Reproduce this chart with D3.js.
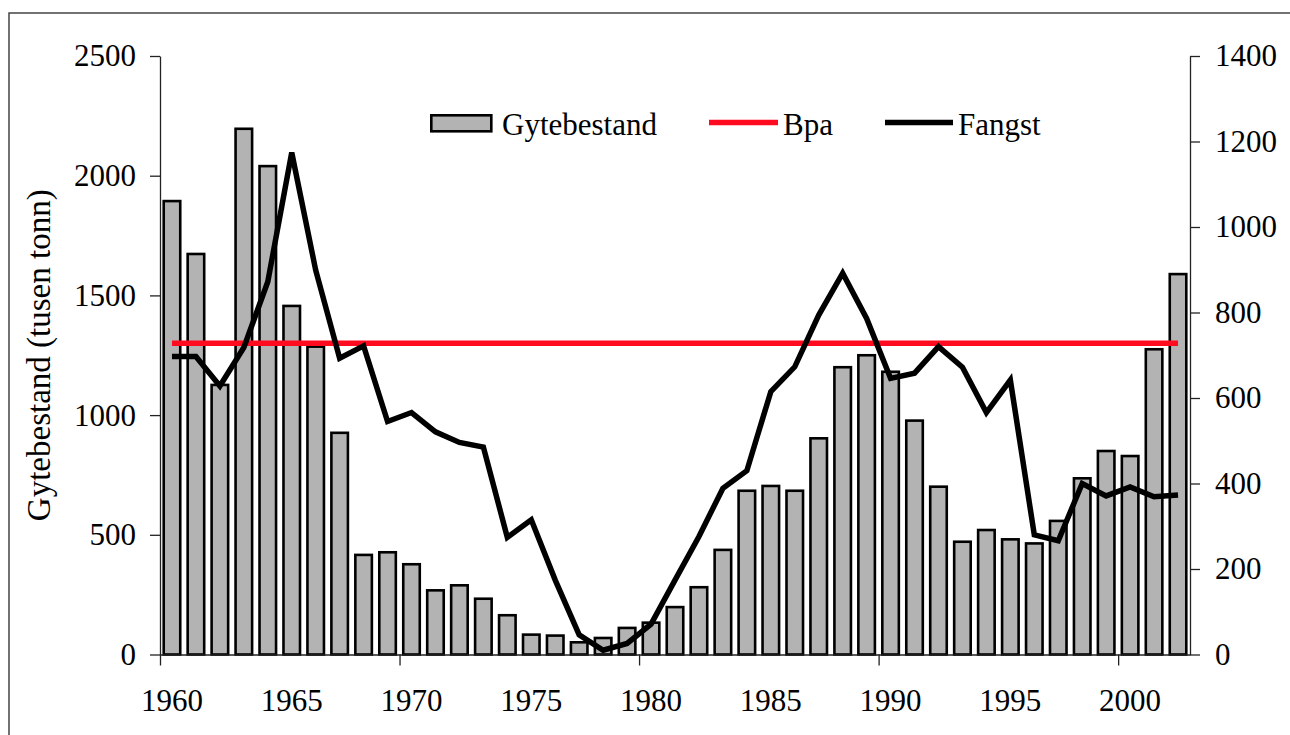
<!DOCTYPE html>
<html>
<head>
<meta charset="utf-8">
<script src="https://cdn.jsdelivr.net/npm/d3@7"></script>
<style>
  body { margin: 0; background: #fff; }
  svg { display: block; font-family: "Liberation Serif", "Times New Roman", serif; }
  .axis path, .axis line { stroke: #222; stroke-width: 1.3; }
  .axis text { font-size: 31px; fill: #000; font-family: "Liberation Serif", serif; }
</style>
</head>
<body>
<div id="chart"></div>
<script>
// years on the category axis
var years = d3.range(1960, 2003);

// Gytebestand (tusen tonn), left axis
var gytebestand = [1894, 1673, 1126, 2196, 2040, 1456, 1286, 926, 416, 427,
  377, 268, 289, 233, 164, 83, 79, 51, 69, 111,
  133, 198, 281, 437, 684, 704, 684, 903, 1200, 1250,
  1181, 977, 701, 471, 520, 481, 464, 558, 736, 850,
  829, 1275, 1589];

// Fangst, right axis
var fangst = [697, 697, 628, 718, 872, 1174, 899, 693, 722, 545,
  566, 521, 496, 485, 274, 315, 174, 46, 10, 26,
  71, 174, 276, 389, 430, 615, 673, 794, 892, 786,
  646, 658, 720, 672, 566, 642, 280, 266, 400, 371,
  392, 369, 373];

// Bpa reference level
var bpa = 1300;

var leftTicks = [0, 500, 1000, 1500, 2000, 2500];
var rightTicks = [0, 200, 400, 600, 800, 1000, 1200, 1400];
var yearLabels = [1960, 1965, 1970, 1975, 1980, 1985, 1990, 1995, 2000];
var yearTicks = [1960, 1970, 1980, 1990, 2000];
var legendNames = ["Gytebestand", "Bpa", "Fangst"];

var W = 1290, H = 735;
var plot = { left: 160, right: 1190, top: 56, bottom: 654.5 };

var svg = d3.select("#chart").append("svg")
  .attr("width", W)
  .attr("height", H);

// outer frame (only top and left edge are visible)
svg.append("path")
  .attr("d", "M9," + H + "V13H" + W)
  .attr("fill", "none")
  .attr("stroke", "#444")
  .attr("stroke-width", 1.5);

var x = d3.scaleBand()
  .domain(years)
  .range([plot.left, plot.right])
  .paddingInner(0.31)
  .paddingOuter(0.155);

// linear version for the boundary ticks
var xEdge = d3.scaleLinear()
  .domain([1960, 2003])
  .range([plot.left, plot.right]);

var yLeft = d3.scaleLinear().domain([0, 2500]).range([plot.bottom, plot.top]);
var yRight = d3.scaleLinear().domain([0, 1400]).range([plot.bottom, plot.top]);

// bars
svg.append("g")
  .selectAll("rect")
  .data(years)
  .enter()
  .append("rect")
  .attr("x", function (d) { return x(d); })
  .attr("y", function (d, i) { return yLeft(gytebestand[i]); })
  .attr("width", x.bandwidth())
  .attr("height", function (d, i) { return plot.bottom - yLeft(gytebestand[i]); })
  .attr("fill", "#b3b3b3")
  .attr("stroke", "#000")
  .attr("stroke-width", 2.6);

// Bpa line
svg.append("line")
  .attr("x1", x(1960) + x.bandwidth() / 2)
  .attr("x2", x(2002) + x.bandwidth() / 2)
  .attr("y1", yLeft(bpa))
  .attr("y2", yLeft(bpa))
  .attr("stroke", "#ff0a1e")
  .attr("stroke-width", 5.5);

// Fangst line
var line = d3.line()
  .x(function (d) { return x(d) + x.bandwidth() / 2; })
  .y(function (d, i) { return yRight(fangst[i]); });

svg.append("path")
  .datum(years)
  .attr("d", line)
  .attr("fill", "none")
  .attr("stroke", "#000")
  .attr("stroke-width", 5.5)
  .attr("stroke-linejoin", "miter")
  .attr("stroke-miterlimit", 3);

// left axis
svg.append("g")
  .attr("class", "axis")
  .attr("transform", "translate(" + plot.left + ",0)")
  .call(d3.axisLeft(yLeft).tickValues(leftTicks).tickFormat(d3.format("d"))
    .tickSize(10).tickPadding(14).tickSizeOuter(0));

// right axis
svg.append("g")
  .attr("class", "axis")
  .attr("transform", "translate(" + plot.right + ",0)")
  .call(d3.axisRight(yRight).tickValues(rightTicks).tickFormat(d3.format("d"))
    .tickSize(10).tickPadding(15).tickSizeOuter(0));

// bottom axis: tick marks on category edges every 10 years
svg.append("g")
  .attr("class", "axis")
  .attr("transform", "translate(0," + plot.bottom + ")")
  .call(d3.axisBottom(xEdge).tickValues(yearTicks).tickSize(11).tickFormat("").tickSizeOuter(0));

// bottom labels centred on categories every 5 years
var xLab = svg.append("g")
  .attr("class", "axis")
  .attr("transform", "translate(0," + plot.bottom + ")")
  .call(d3.axisBottom(x).tickValues(yearLabels).tickSize(0).tickPadding(34));
xLab.select(".domain").remove();

// y axis title
svg.append("text")
  .attr("transform", "translate(50," + (plot.top + plot.bottom) / 2 + ") rotate(-90)")
  .attr("text-anchor", "middle")
  .attr("font-size", 33)
  .text("Gytebestand (tusen tonn)");

// legend
var leg = svg.append("g").attr("font-size", 31);
leg.append("rect")
  .attr("x", 431.3).attr("y", 115.3)
  .attr("width", 60).attr("height", 16)
  .attr("fill", "#b3b3b3").attr("stroke", "#000").attr("stroke-width", 2.6);
leg.append("text").attr("x", 502).attr("y", 135).text(legendNames[0]);

leg.append("line")
  .attr("x1", 709).attr("x2", 778).attr("y1", 122.5).attr("y2", 122.5)
  .attr("stroke", "#ff0a1e").attr("stroke-width", 5.5);
leg.append("text").attr("x", 783).attr("y", 135).text(legendNames[1]);

leg.append("line")
  .attr("x1", 885).attr("x2", 953).attr("y1", 122.5).attr("y2", 122.5)
  .attr("stroke", "#000").attr("stroke-width", 5.5);
leg.append("text").attr("x", 958).attr("y", 135).text(legendNames[2]);
</script>
</body>
</html>
